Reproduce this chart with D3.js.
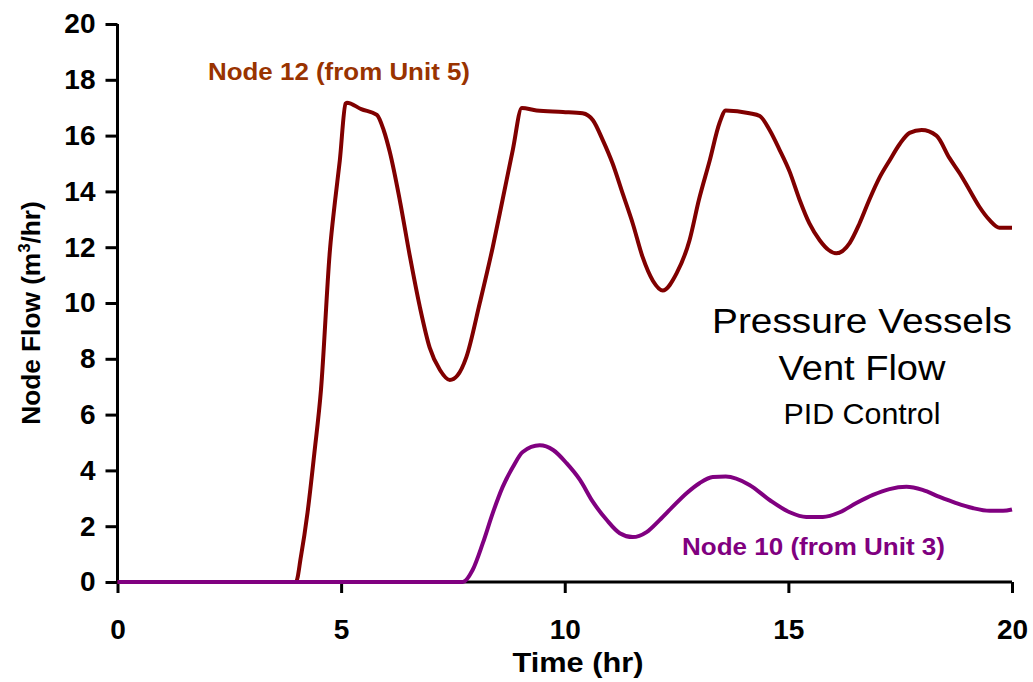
<!DOCTYPE html>
<html>
<head>
<meta charset="utf-8">
<script src="https://cdn.jsdelivr.net/npm/d3@7"></script>
<style>
  html, body { margin: 0; padding: 0; background: #fff; }
  svg { display: block; font-family: Arial, "Liberation Sans", sans-serif; }
</style>
</head>
<body>
<svg id="chart" width="1033" height="682"></svg>
<script>
// Time (hr) samples and vent flow (m3/hr) for each node
const node12Time = [0, 3.99, 4.1, 4.25, 4.4, 4.55, 4.75, 4.86, 4.97, 5.1, 5.13, 5.45, 5.8, 5.95, 6.09, 6.31, 6.54, 6.76, 6.98, 7.21, 7.43, 7.6, 7.8, 8.1, 8.39, 8.61, 8.84, 9.04, 9.37, 9.96, 10.4, 10.63, 10.85, 11.07, 11.3, 11.52, 11.74, 11.97, 12.19, 12.5, 12.79, 13.0, 13.24, 13.46, 13.6, 14.13, 14.36, 14.58, 14.8, 15.03, 15.25, 15.47, 15.7, 15.9, 16.07, 16.37, 16.59, 16.81, 17.04, 17.26, 17.49, 17.71, 17.98, 18.31, 18.6, 18.83, 19.05, 19.27, 19.5, 19.72, 20];
const node12Flow = [0, 0, 0.9, 2.5, 4.6, 6.9, 11.9, 13.6, 15.1, 17.15, 17.18, 16.95, 16.74, 16.2, 15.4, 13.7, 11.65, 9.86, 8.4, 7.6, 7.24, 7.4, 8.06, 10.0, 12.0, 13.7, 15.5, 16.99, 16.9, 16.85, 16.8, 16.55, 15.84, 15.0, 13.9, 12.85, 11.65, 10.8, 10.45, 11.06, 12.25, 13.7, 15.1, 16.45, 16.9, 16.8, 16.7, 16.2, 15.5, 14.7, 13.7, 12.85, 12.25, 11.9, 11.78, 12.15, 12.85, 13.7, 14.5, 15.1, 15.7, 16.1, 16.2, 16.0, 15.2, 14.65, 14.05, 13.45, 12.97, 12.7, 12.7];

const node10Time = [0, 7.72, 7.94, 8.17, 8.39, 8.61, 8.84, 9.06, 9.44, 9.74, 10.04, 10.34, 10.63, 10.94, 11.23, 11.52, 11.83, 12.12, 12.41, 12.73, 13.02, 13.31, 13.6, 14.13, 14.58, 15.03, 15.4, 15.77, 16.15, 16.52, 16.89, 17.26, 17.64, 18.0, 18.38, 18.75, 19.12, 19.5, 19.8, 20];
const node10Flow = [0, 0, 0.43, 1.4, 2.47, 3.4, 4.12, 4.66, 4.9, 4.73, 4.26, 3.66, 2.87, 2.22, 1.75, 1.61, 1.79, 2.22, 2.69, 3.19, 3.55, 3.76, 3.78, 3.48, 2.94, 2.5, 2.33, 2.33, 2.5, 2.83, 3.12, 3.33, 3.41, 3.3, 3.05, 2.83, 2.65, 2.55, 2.55, 2.6];

const xTicks = [0, 5, 10, 15, 20];
const yTicks = [0, 2, 4, 6, 8, 10, 12, 14, 16, 18, 20];

const svg = d3.select("#chart");
const x = d3.scaleLinear().domain([0, 20]).range([117.5, 1012]);
const y = d3.scaleLinear().domain([0, 20]).range([582, 24]);

// Series
const line = d3.line().x(d => x(d[0])).y(d => y(d[1])).curve(d3.curveMonotoneX);
const series = [
  { t: node12Time, v: node12Flow, color: "#800000" },
  { t: node10Time, v: node10Flow, color: "#800080" }
];

// Axes
const yAxis = svg.append("g")
  .attr("transform", `translate(${x(0)},0)`)
  .call(d3.axisLeft(y).tickValues(yTicks).tickSize(12).tickPadding(10).tickFormat(d3.format("d")));
const xAxis = svg.append("g")
  .attr("transform", `translate(0,${y(0)})`)
  .call(d3.axisBottom(x).tickValues(xTicks).tickSize(11).tickPadding(26).tickFormat(d3.format("d")));
[yAxis, xAxis].forEach(a => {
  a.select(".domain").attr("stroke", "#000").attr("stroke-width", 3);
  a.selectAll(".tick line").attr("stroke", "#000").attr("stroke-width", 3);
  a.selectAll(".tick text").attr("fill", "#000").attr("font-size", 28).attr("font-weight", "bold")
    .attr("font-family", "Arial, 'Liberation Sans', sans-serif");
});
// Plain axis lines without end caps
yAxis.select(".domain").attr("d", `M0,${y(20)}V${y(0)}`);
xAxis.select(".domain").attr("d", `M${x(0)},0H${x(20)}`);

series.forEach(s => {
  svg.append("path")
    .datum(s.t.map((t, i) => [t, s.v[i]]))
    .attr("fill", "none")
    .attr("stroke", s.color)
    .attr("stroke-width", 4)
    .attr("stroke-linejoin", "round")
    .attr("d", line);
});

// Axis titles
svg.append("text")
  .attr("x", 578).attr("y", 672)
  .attr("text-anchor", "middle")
  .attr("font-size", 28).attr("font-weight", "bold")
  .attr("textLength", 131).attr("lengthAdjust", "spacingAndGlyphs")
  .text("Time (hr)");

const yt = svg.append("text")
  .attr("transform", "translate(40,313) rotate(-90) scale(1.05,1)")
  .attr("text-anchor", "middle")
  .attr("font-size", 25).attr("font-weight", "bold");
yt.append("tspan").text("Node Flow (m");
yt.append("tspan").attr("font-size", 16).attr("dy", -10).text("3");
yt.append("tspan").attr("dy", 10).text("/hr)");

// Series labels
svg.append("text")
  .attr("x", 208).attr("y", 80)
  .attr("font-size", 24).attr("font-weight", "bold").attr("fill", "#993300")
  .attr("textLength", 262).attr("lengthAdjust", "spacingAndGlyphs")
  .text("Node 12 (from Unit 5)");
svg.append("text")
  .attr("x", 682).attr("y", 555)
  .attr("font-size", 24).attr("font-weight", "bold").attr("fill", "#800080")
  .attr("textLength", 263).attr("lengthAdjust", "spacingAndGlyphs")
  .text("Node 10 (from Unit 3)");

// Chart title block
const title = [
  { text: "Pressure Vessels", y: 333, size: 35, len: 300 },
  { text: "Vent Flow", y: 380, size: 35, len: 167 },
  { text: "PID Control", y: 424, size: 30, len: 157 }
];
svg.selectAll("text.title").data(title).enter().append("text")
  .attr("class", "title")
  .attr("x", 862).attr("y", d => d.y)
  .attr("text-anchor", "middle")
  .attr("font-size", d => d.size)
  .attr("textLength", d => d.len).attr("lengthAdjust", "spacingAndGlyphs")
  .attr("fill", "#000")
  .text(d => d.text);
</script>
</body>
</html>
